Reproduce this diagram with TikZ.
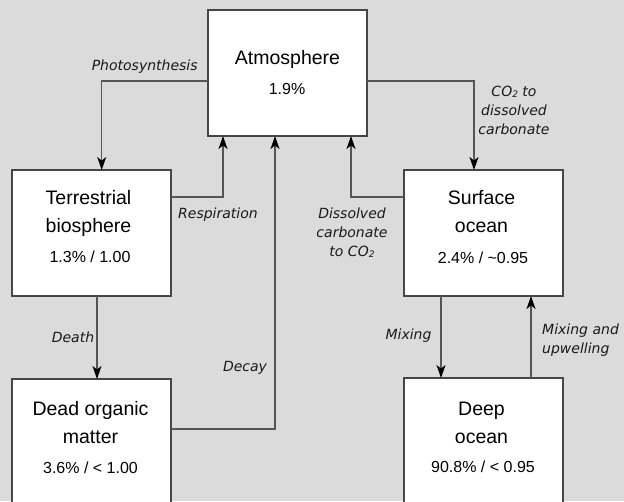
\documentclass[tikz,border=0pt]{standalone}
\usepackage{fontspec}
\setmainfont{Liberation Sans}
\newfontfamily\lblfont{DejaVu Sans}
\usetikzlibrary{arrows.meta}
\definecolor{bgcol}{RGB}{219,219,219}
\definecolor{boxline}{RGB}{70,70,70}
\definecolor{flowline}{RGB}{85,85,85}
\tikzset{
  pool/.style={draw=boxline, fill=white, line width=1.3pt, rectangle, minimum width=159pt, inner sep=0pt, outer sep=0pt, anchor=north west},
  ttl/.style={font=\fontsize{19.5}{28}\selectfont, align=center, inner sep=0pt, anchor=base},
  pct/.style={font=\fontsize{16}{19}\selectfont, inner sep=0pt, anchor=base},
  lbl/.style={font=\lblfont\itshape\fontsize{14}{19}\selectfont, inner sep=0pt, anchor=base, text=black!90},
  flow/.style={draw=flowline, line width=1.2pt, -{Stealth[length=13pt,width=9pt,inset=3.5pt,color=black]}}
}
\newcommand{\sub}[1]{\raisebox{-1pt}{\fontsize{9}{9}\selectfont #1}}
\begin{document}
\begin{tikzpicture}[x=1pt,y=-1pt]
\useasboundingbox (0,0) rectangle (624,501);
\fill[bgcol] (0,0) rectangle (624,501);
\clip (0,0) rectangle (624,501);

% pools
\node[pool, minimum height=126pt] (atm) at (208,10) {};
\node[pool, minimum height=126pt] (ter) at (12,170) {};
\node[pool, minimum height=140pt] (dead) at (12,379) {};
\node[pool, minimum height=126pt] (surf) at (404,170) {};
\node[pool, minimum height=140pt] (deep) at (404,378) {};

% texts in pools (multi-line nodes: base = last line)
\node[ttl] (atmT) at (287.5,64) {Atmosphere};
\node[pct] (atmP) at (287,94) {1.9\%};
\node[ttl] (terT) at (88.5,232) {Terrestrial\\biosphere};
\node[pct] (terP) at (90,262) {1.3\% / 1.00};
\node[ttl] (deadT) at (90.5,443) {Dead organic\\matter};
\node[pct] (deadP) at (90.5,473) {3.6\% / {<} 1.00};
\node[ttl] (surfT) at (481.5,232) {Surface\\ocean};
\node[pct] (surfP) at (483,263) {2.4\% / \textasciitilde0.95};
\node[ttl] (deepT) at (481.5,443) {Deep\\ocean};
\node[pct] (deepP) at (483,472) {90.8\% / {<} 0.95};

% connectors
\draw[flow] (atm.west |- 0,81) -| (ter.north -| 101.7,0);
\draw[flow] (ter.east |- 0,197) -| (atm.south -| 223,0);
\draw[flow] (dead.east |- 0,429) -| (atm.south -| 275,0);
\draw[flow] (ter.south -| 97,0) -- (dead.north -| 97,0);
\draw[flow] (atm.east |- 0,81) -| (surf.north -| 474,0);
\draw[flow] (surf.west |- 0,197) -| (atm.south -| 351,0);
\draw[flow] (surf.south -| 441,0) -- (deep.north -| 441,0);
\draw[flow] (deep.north -| 531,0) -- (surf.south -| 531,0);

% labels
\node[lbl] (lPhoto) at (144.7,70) {Photosynthesis};
\node[lbl] (lResp) at (218,218) {Respiration};
\node[lbl] (lDecay) at (245,371) {Decay};
\node[lbl] (lDeath) at (73,342) {Death};
\node[lbl, align=center] (lCO) at (514,134) {CO\sub{2} to\\dissolved\\carbonate};
\node[lbl, align=center] (lDis) at (352,256) {Dissolved\\carbonate\\to CO\sub{2}};
\node[lbl] (lMix) at (408.5,339) {Mixing};
\node[lbl, align=left, anchor=base west] (lUp) at (542,353) {Mixing and\\upwelling};
\end{tikzpicture}
\end{document}
